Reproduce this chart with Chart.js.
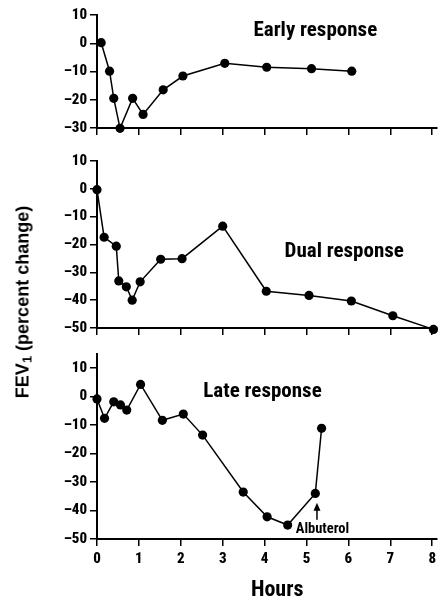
<!DOCTYPE html>
<html>
<head>
<meta charset="utf-8">
<script src="https://cdn.jsdelivr.net/npm/chart.js@4.4.1/dist/chart.umd.min.js"></script>
<style>
  html, body { margin: 0; padding: 0; background: #fff; }
  body { width: 441px; height: 599px; position: relative; overflow: hidden; }
  canvas { position: absolute; left: 0; }
  #ytitle {
    position: absolute; left: 23px; top: 302px; width: 260px; margin-left: -130px;
    text-align: center; transform: translateY(-50%) rotate(-90deg);
    font: bold 18px 'Liberation Sans', Arial, sans-serif; color: #000; white-space: nowrap;
  }
  #ytitle sub { font-size: 13px; vertical-align: -3px; line-height: 0; }
</style>
</head>
<body>
<canvas id="c1" width="441" height="140" style="top:0px"></canvas>
<canvas id="c2" width="441" height="200" style="top:140px"></canvas>
<canvas id="c3" width="441" height="259" style="top:340px"></canvas>
<div id="ytitle">FEV<sub>1</sub> (percent change)</div>
<script>
// ---- data (hours since challenge, FEV1 percent change) ----
const earlyHours = [0.1, 0.3, 0.4, 0.55, 0.85, 1.1, 1.58, 2.05, 3.05, 4.05, 5.12, 6.08];
const earlyFev   = [0.2, -9.9, -19.5, -30.1, -19.5, -25.2, -16.5, -11.6, -7.1, -8.5, -9.0, -9.9];

const dualHours = [0, 0.17, 0.46, 0.52, 0.7, 0.84, 1.03, 1.52, 2.03, 3.0, 4.04, 5.06, 6.07, 7.06, 8.03];
const dualFev   = [-0.3, -17.4, -20.6, -33.1, -35.2, -40.0, -33.4, -25.3, -25.1, -13.4, -36.8, -38.3, -40.3, -45.6, -50.5];

const lateHours = [0, 0.18, 0.4, 0.56, 0.71, 1.04, 1.56, 2.06, 2.52, 3.49, 4.06, 4.55, 5.21, 5.36];
const lateFev   = [-0.8, -7.6, -1.8, -2.9, -4.7, 4.3, -8.3, -6.1, -13.5, -33.5, -42.2, -45.1, -34.0, -11.1];

const xTicks = [0, 1, 2, 3, 4, 5, 6, 7, 8];
const yTicksEarly = [-30, -20, -10, 0, 10];
const yTicksDual  = [-50, -40, -30, -20, -10, 0, 10];
const yTicksLate  = [-50, -40, -30, -20, -10, 0, 10];

const panelTitles = ['Early response', 'Dual response', 'Late response'];
const xTitle = 'Hours';
const noteText = 'Albuterol';

// ---- styling ----
const FAMILY = "Roboto, 'DejaVu Sans Condensed', sans-serif";
const CW = 'bold condensed';
const TICKW = '800 condensed';
const TITLE_FONT = CW + " 21px " + FAMILY;

const textPlugin = {
  id: 'panelText',
  afterDraw(chart, args, opts) {
    const { ctx } = chart;
    const x = chart.scales.x, y = chart.scales.y;
    ctx.save();
    ctx.fillStyle = '#000';
    ctx.strokeStyle = '#000';
    ctx.textAlign = 'center';
    ctx.textBaseline = 'middle';
    (opts.items || []).forEach(it => {
      ctx.font = it.font;
      ctx.fillText(it.text, x.getPixelForValue(it.x), y.getPixelForValue(it.y));
    });
    if (opts.arrow) {
      const a = opts.arrow;
      const px = x.getPixelForValue(a.x);
      const y0 = y.getPixelForValue(a.from), y1 = y.getPixelForValue(a.to);
      ctx.lineWidth = 1.5;
      ctx.beginPath(); ctx.moveTo(px, y0); ctx.lineTo(px, y1 + 5); ctx.stroke();
      ctx.beginPath(); ctx.moveTo(px, y1); ctx.lineTo(px - 3.5, y1 + 8); ctx.lineTo(px + 3.5, y1 + 8); ctx.closePath(); ctx.fill();
    }
    ctx.restore();
  }
};

function fmt(v) { return v < 0 ? '\u2013' + Math.abs(v) : String(v); }

function makeChart(id, hours, fev, yMin, yMax, yTicks, pad, xHeight, showXLabels, texts) {
  return new Chart(document.getElementById(id), {
    type: 'line',
    data: {
      datasets: [{
        data: hours.map((h, i) => ({ x: h, y: fev[i] })),
        borderColor: '#000', borderWidth: 1.5,
        pointRadius: 4.6, pointHoverRadius: 4.6,
        pointBackgroundColor: '#000', pointBorderWidth: 0,
        tension: 0, clip: false, fill: false
      }]
    },
    options: {
      responsive: false, animation: false, devicePixelRatio: 1,
      layout: { padding: { left: 0, right: 4, top: pad, bottom: 0 } },
      plugins: { legend: { display: false }, tooltip: { enabled: false }, panelText: texts },
      events: [],
      scales: {
        x: {
          type: 'linear', min: 0, max: 8.1,
          afterBuildTicks: s => { s.ticks = xTicks.map(v => ({ value: v })); },
          afterFit: s => { s.height = xHeight; },
          grid: { display: true, drawOnChartArea: false, drawTicks: true, tickLength: 7, color: '#000', lineWidth: 1.5 },
          border: { display: true, color: '#000', width: 2 },
          ticks: { display: showXLabels, padding: 4, color: '#000', maxRotation: 0,
                   font: { family: FAMILY, size: 15, weight: TICKW } }
        },
        y: {
          type: 'linear', min: yMin, max: yMax,
          afterBuildTicks: s => { s.ticks = yTicks.map(v => ({ value: v })); },
          afterFit: s => { s.width = 97; },
          grid: { display: true, drawOnChartArea: false, drawTicks: true, tickLength: 7, color: '#000', lineWidth: 1.5 },
          border: { display: true, color: '#000', width: 2 },
          ticks: { padding: 3, color: '#000', callback: v => fmt(v),
                   font: { family: FAMILY, size: 15, weight: TICKW } }
        }
      }
    },
    plugins: [textPlugin]
  });
}

makeChart('c1', earlyHours, earlyFev, -30, 10, yTicksEarly, 15, 12, false, {
  items: [{ text: panelTitles[0], x: 5.21, y: 4.3, font: TITLE_FONT }]
});
makeChart('c2', dualHours, dualFev, -50, 10, yTicksDual, 21, 12, false, {
  items: [{ text: panelTitles[1], x: 5.9, y: -22.7, font: TITLE_FONT }]
});
makeChart('c3', lateHours, lateFev, -50, 15, yTicksLate, 14, 60, true, {
  items: [
    { text: panelTitles[2], x: 3.95, y: 1.9, font: TITLE_FONT },
    { text: noteText, x: 5.38, y: -46.7, font: CW + " 14.5px " + FAMILY },
    { text: xTitle, x: 4.3, y: -68.0, font: CW + " 22px " + FAMILY }
  ],
  arrow: { x: 5.25, from: -43.2, to: -37.3 }
});
</script>
</body>
</html>
